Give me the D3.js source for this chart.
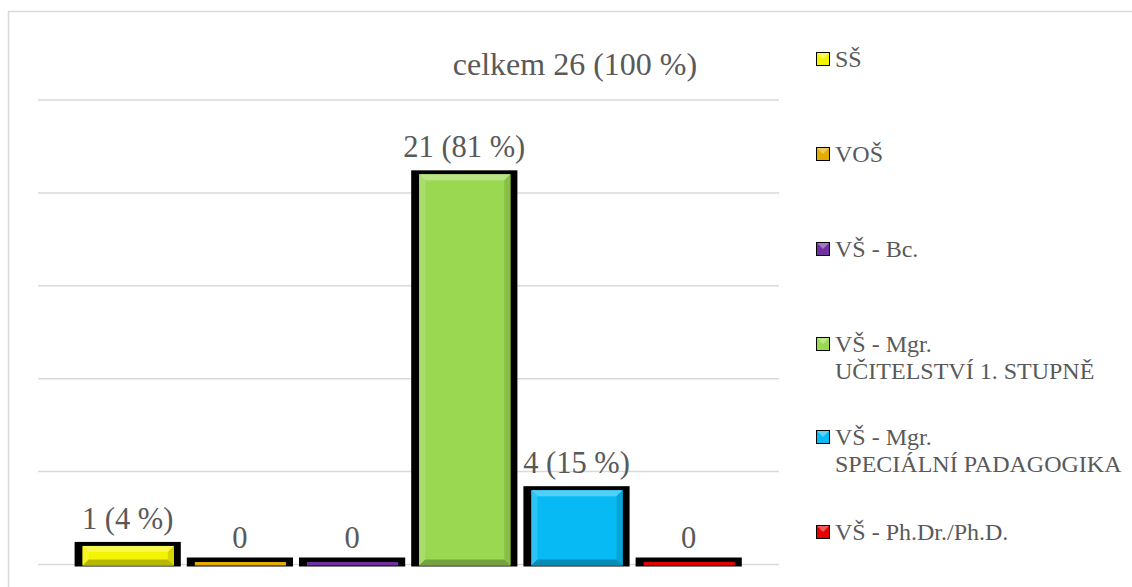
<!DOCTYPE html>
<html><head><meta charset="utf-8">
<script src="https://cdn.jsdelivr.net/npm/d3@7/dist/d3.min.js"></script>
<style>html,body{margin:0;padding:0;background:#fff;}svg{display:block;}</style>
</head><body><svg id="c" width="1132" height="587"></svg>
<script>
const categories = ["SŠ","VOŠ","VŠ - Bc.","VŠ - Mgr. UČITELSTVÍ 1. STUPNĚ","VŠ - Mgr. SPECIÁLNÍ PADAGOGIKA","VŠ - Ph.Dr./Ph.D."];
const legendLines = [["SŠ"],["VOŠ"],["VŠ - Bc."],["VŠ - Mgr.","UČITELSTVÍ 1. STUPNĚ"],["VŠ - Mgr.","SPECIÁLNÍ PADAGOGIKA"],["VŠ - Ph.Dr./Ph.D."]];
const values = [1,0,0,21,4,0];
const valueLabels = ["1 (4 %)","0","0","21 (81 %)","4 (15 %)","0"];
const colors = ["#f4f400","#e3ad00","#7030a0","#9ad852","#08baf3","#e60000"];
const yTicks = [0,5,10,15,20,25];
const title = "celkem 26 (100 %)";

const svg = d3.select("#c");
const font = "'Liberation Serif','Times New Roman',serif";
const textCol = "#595959";

// outer border
svg.append("rect").attr("x",8.5).attr("y",11.5).attr("width",1200).attr("height",700)
  .attr("fill","none").attr("stroke","#d9d9d9").attr("stroke-width",1.5);

const y = d3.scaleLinear().domain([0,25]).range([564.5,100]);
const x = d3.scaleBand().domain(d3.range(categories.length)).range([71.6,744.8]).padding(0);

// gridlines
svg.append("g").selectAll("line").data(yTicks).join("line")
  .attr("x1",38).attr("x2",779).attr("y1",d=>y(d)).attr("y2",d=>y(d))
  .attr("stroke","#d9d9d9").attr("stroke-width",1.5);

const base = y(0);
const bars = svg.append("g");
values.forEach((v,i)=>{
  const bx0 = x(i)+3, bx1 = x(i)+x.bandwidth()-3;
  const bTop = Math.min(y(v)-4, base-7);
  bars.append("rect").attr("x",bx0).attr("y",bTop).attr("width",bx1-bx0).attr("height",base+2-bTop).attr("fill","#000");
  const fx0 = bx0+8, fx1 = bx1-7;
  const fTop = Math.min(y(v), base-2.5), fBot = base+1;
  bars.append("rect").attr("x",fx0).attr("y",fTop).attr("width",fx1-fx0).attr("height",fBot-fTop).attr("fill",colors[i]);
  const h = fBot-fTop;
  const b = Math.min(6, h/2, (fx1-fx0)/2);
  if (h > 6) {
    const light = d3.interpolateRgb(colors[i], "#ffffff")(0.3);
    const lighter = d3.interpolateRgb(colors[i], "#ffffff")(0.15);
    const dark = d3.interpolateRgb(colors[i], "#000000")(0.25);
    const darker = d3.interpolateRgb(colors[i], "#000000")(0.12);
    const poly = (pts,col)=>bars.append("polygon").attr("points",pts.map(p=>p.join(",")).join(" ")).attr("fill",col);
    poly([[fx0,fTop],[fx1,fTop],[fx1-b,fTop+b],[fx0+b,fTop+b]], light);
    poly([[fx0,fTop],[fx0+b,fTop+b],[fx0+b,fBot-b],[fx0,fBot]], lighter);
    poly([[fx1,fTop],[fx1,fBot],[fx1-b,fBot-b],[fx1-b,fTop+b]], darker);
    poly([[fx0,fBot],[fx0+b,fBot-b],[fx1-b,fBot-b],[fx1,fBot]], dark);
  }
  svg.append("text").attr("x",(bx0+bx1)/2).attr("y",y(v)-17)
    .attr("text-anchor","middle").attr("font-family",font).attr("font-size",30.5)
    .attr("fill",textCol).text(valueLabels[i]);
});

// title
svg.append("text").attr("x",575).attr("y",75).attr("text-anchor","middle")
  .attr("font-family",font).attr("font-size",32).attr("fill",textCol).text(title);

// legend
const legY = [67,162,257,352,445,540];
const lg = svg.append("g");
legendLines.forEach((lines,i)=>{
  const ty = legY[i];
  lg.append("rect").attr("x",816.5).attr("y",ty-14.5).attr("width",13).attr("height",13)
    .attr("fill",colors[i]).attr("stroke","#000").attr("stroke-width",1);
  const bl = d3.interpolateRgb(colors[i], "#ffffff")(0.35);
  lg.append("polygon").attr("points",`${817},${ty-14} ${829},${ty-14} ${823},${ty-8}`).attr("fill",bl);
  const t = lg.append("text").attr("font-family",font).attr("font-size",24).attr("fill",textCol);
  lines.forEach((ln,j)=>{
    t.append("tspan").attr("x",835).attr("y",ty + j*26.5).text(ln);
  });
});
</script></body></html>
